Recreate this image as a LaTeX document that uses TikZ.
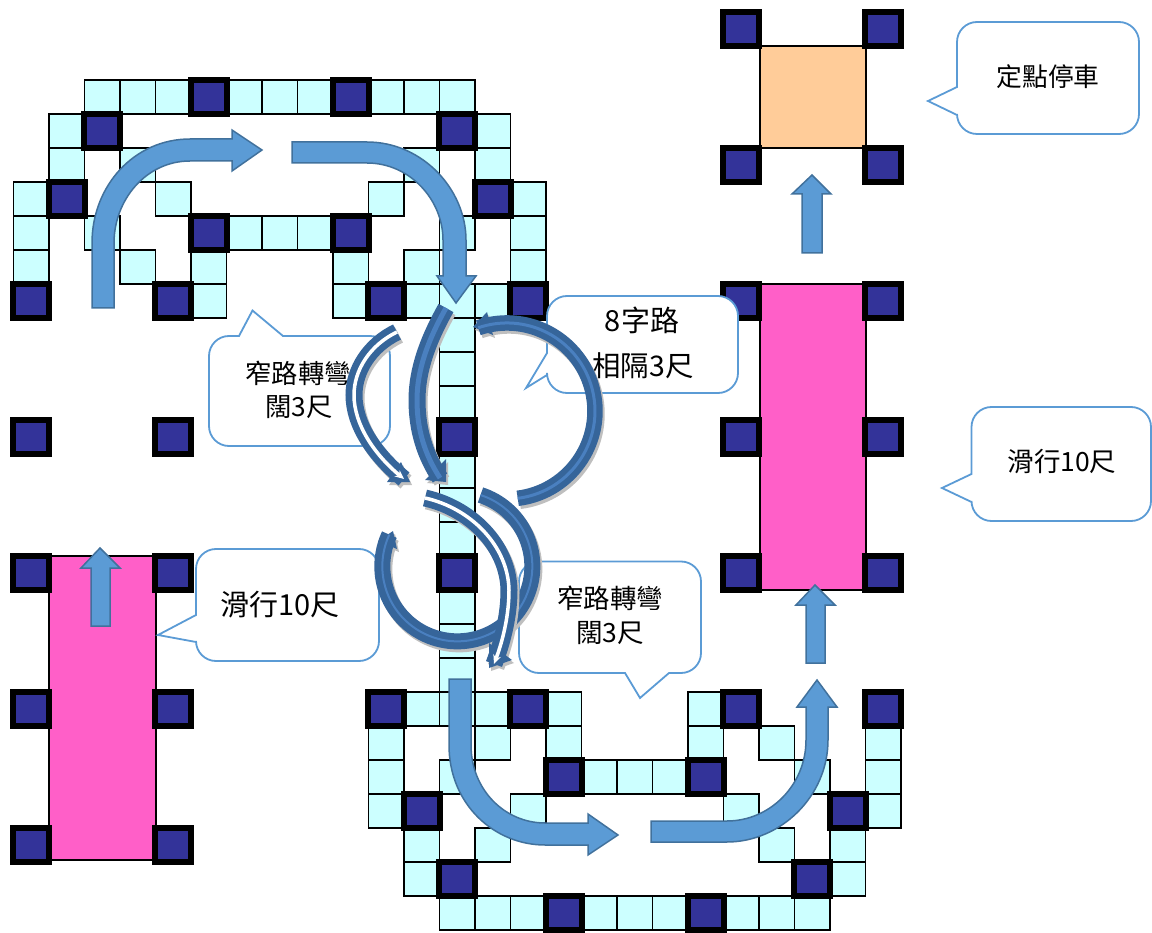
\documentclass[tikz,border=0pt]{standalone}
\usepackage{fontspec}
\newfontfamily\cjk{Noto Sans CJK TC}
\usetikzlibrary{arrows.meta}
\definecolor{trackcyan}{HTML}{CCFFFF}
\definecolor{postblue}{HTML}{333399}
\definecolor{bararrow}{HTML}{5B9BD5}
\definecolor{barline}{HTML}{41719C}
\definecolor{swoopdark}{HTML}{36659A}
\definecolor{swooplight}{HTML}{4A80C0}
\definecolor{stoporange}{HTML}{FFCC99}
\definecolor{glidepink}{HTML}{FF5FC8}
\tikzset{
        x=1pt, y=-1pt, % one unit is one pixel of the layout, y runs down
        cell/.style={draw=black, line width=1.4pt, fill=trackcyan, minimum width=35.5pt, minimum height=34pt, inner sep=0pt},
        post/.style={draw=black, line width=5.7pt, fill=postblue, minimum width=36pt, minimum height=34pt, inner sep=0pt},
        stage/.style={draw=black, line width=2pt}, % the coloured stop and glide boxes
        bar/.style={fill=bararrow, draw=barline, line width=1.5pt}, % block arrows
        callout/.style={draw=bararrow, line width=1.8pt, fill=white},
        words/.style={align=center, inner sep=0pt},
        swoopline/.style={draw=swoopdark},
        swoopshade/.style={draw=black!25},
        whitecore/.style={draw=white, line width=3.5pt, -{Stealth[length=9pt,width=8pt]}},
        bluecore/.style={draw=swooplight, line width=#1},
    }
\newcommand{\wordsize}[1]{\cjk\fontsize{#1}{#1}\selectfont}
% outer width, core style, curve, head
\newcommand{\swoop}[4]{%
    \begin{scope}[shift={(2,3)}]
        \draw[swoopshade, line width=#1] #3;
        \fill[black!25] #4;
    \end{scope}
    \draw[swoopline, line width=#1] #3;
    \fill[swoopdark] #4;
    \draw[#2] #3;
}

\begin{document}
\begin{tikzpicture}
    \useasboundingbox (0,0) rectangle (1152,933);
    % track squares, row by row
    \foreach \r/\cols in {0/{2,...,12}, 1/{1,2,12,13}, 2/{1,3,11,13}, 3/{0,1,4,10,13,14},
            4/{0,2,5,6,7,8,9,12,14}, 5/{0,3,5,9,11,14}, 6/{4,5,9,10,11,12,13},
            7/{12}, 8/{12}, 9/{12}, 10/{12}, 11/{12}, 12/{12}, 13/{12}, 14/{12}, 15/{12}, 16/{12}, 17/{12},
            18/{10,...,15,19,...,24}, 19/{10,13,15,19,21,24}, 20/{10,12,15,16,17,18,19,22,24},
            21/{10,11,14,20,23,24}, 22/{11,13,21,23}, 23/{11,12,22,23}, 24/{12,...,22}}
        \foreach \c in \cols
            \node[cell] (cell-\c-\r) at ({31.25+35.5*\c},{97+34*\r}) {};
    % stop box and glide boxes
    \draw[stage, fill=stoporange] (759.5,46) rectangle (866,148);
    \draw[stage, fill=glidepink] (759.5,284) rectangle (866,590);
    \draw[stage, fill=glidepink] (49,556) rectangle (155.5,860);
    % posts
    \foreach \c/\r in {5/0, 9/0, 2/1, 12/1, 1/3, 13/3, 5/4, 9/4, 0/6, 4/6, 10/6, 14/6,
            12/10, 12/14, 10/18, 14/18, 20/18, 24/18, 15/20, 19/20, 11/21, 23/21, 12/23, 22/23, 15/24, 19/24,
            0/10, 4/10, 0/14, 4/14, 0/18, 4/18, 0/22, 4/22,
            20/6, 24/6, 20/10, 24/10, 20/14, 24/14, 20/-2, 24/-2, 20/2, 24/2}
        \node[post] (post-\c-\r) at ({31.25+35.5*\c},{97+34*\r}) {};
    % block arrows
    \draw[bar] (92,308) -- (92,243) .. controls (92,186) and (134,139) .. (190,139) -- (232,139) -- (232,130) -- (262,150)
        -- (232,171) -- (232,161) -- (190,161) .. controls (146,161) and (114,200) .. (114,243) -- (114,308) -- cycle;
    \draw[bar] (292,142) -- (367,142) .. controls (423,142) and (466,190) .. (466,240) -- (466,276) -- (476,276) -- (456,303)
        -- (437,276) -- (443,276) -- (443,240) .. controls (443,200) and (410,163) .. (367,163) -- (292,163) -- cycle;
    \draw[bar] (449,679) -- (449,745) .. controls (449,805) and (495,845) .. (545,845) -- (588,845) -- (588,855) -- (618,835)
        -- (588,814) -- (588,823) -- (545,823) .. controls (505,823) and (471,790) .. (471,745) -- (471,679) -- cycle;
    \draw[bar] (651,821) -- (727,821) .. controls (770,821) and (806,785) .. (806,740) -- (806,707) -- (797,707) -- (817,680)
        -- (837,707) -- (828,707) -- (828,740) .. controls (828,797) and (780,842) .. (727,842) -- (651,842) -- cycle;
    \draw[bar] (91,626) -- (91,568) -- (81,568) -- (100,548) -- (120,568) -- (110,568) -- (110,626) -- cycle;
    \draw[bar] (806,663) -- (806,605) -- (796,605) -- (815,585) -- (835,605) -- (825,605) -- (825,663) -- cycle;
    \draw[bar] (802,253) -- (802,194) -- (792,194) -- (812,175) -- (831,194) -- (822,194) -- (822,253) -- cycle;
    % callouts
    \draw[callout] (957,87) [rounded corners=20pt] -- (957,22) -- (1139,22) -- (1139,134) -- (957,134) [sharp corners] -- (957,115) -- (928,101) -- cycle;
    \node[words, font=\wordsize{25.8}] (stopnote) at (1048,77) {定點停車};
    \draw[callout] (971.5,474) [rounded corners=20pt] -- (971.5,407) -- (1151,407) -- (1151,521) -- (971.5,521) [sharp corners] -- (971.5,502) -- (942,488) -- cycle;
    \node[words, font=\wordsize{26.5}] (glidenote) at (1062,462) {滑行10尺};
    \draw[callout] (196,615) [rounded corners=20pt] -- (196,549) -- (379,549) -- (379,661) -- (196,661) [sharp corners] -- (196,642) -- (158,635) -- cycle;
    \node[words, font=\wordsize{29}] (glideleft) at (280,605) {滑行10尺};
    \draw[callout] (252.5,310.5) -- (283,336) [rounded corners=20pt] -- (390,336) -- (390,446) -- (209,446) -- (209,336) [sharp corners] -- (239,336) -- cycle;
    \node[words, font=\wordsize{26.3}] (narrowtop) at (298,373) {窄路轉彎};
    \node[words, font=\wordsize{26.3}] (narrowtopgap) at (299,407) {闊3尺};
    \draw[callout] (547,353) [rounded corners=20pt] -- (547,296) -- (738,296) -- (738,393) -- (547,393) [sharp corners] -- (547,375) -- (526,388) -- cycle;
    \node[words, font=\wordsize{29}] (eightnote) at (642,320) {8字路};
    \node[words, font=\wordsize{28.4}] (gapnote) at (643,366) {相隔3尺};
    \draw[callout] (640,698) -- (625,673) [rounded corners=20pt] -- (519,673) -- (519,561.5) -- (701,561.5) -- (701,673) [sharp corners] -- (669,673) -- cycle;
    \node[words, font=\wordsize{26.5}] (narrowlow) at (610,598) {窄路轉彎};
    \node[words, font=\wordsize{26.5}] (narrowlowgap) at (610,633) {闊3尺};
    % figure eight and narrow turn arrows
    \swoop{17pt}{whitecore}{(397,332) .. controls (370,345) and (354,370) .. (354,395) .. controls (354,425) and (375,455) .. (404,479)}{(387,482) -- (410,482) -- (401,462) -- cycle}
    \swoop{17pt}{bluecore=5pt}{(446,308) .. controls (428,340) and (417,370) .. (417,400) .. controls (417,430) and (425,455) .. (440,478)}{(425,480) -- (446,482) -- (446,459) -- cycle}
    \swoop{15.5pt}{bluecore=3pt}{(517.7,498.3) arc[start angle=-83, end angle=109, radius=88pt]}{(473,327) -- (487,312) -- (493,335) -- cycle}
    \swoop{16pt}{bluecore=2pt}{(480.5,495) arc[start angle=72, end angle=-205, radius=75pt]}{(378,541) -- (393,531) -- (397,549) -- cycle}
    \swoop{17pt}{whitecore}{(425,498) .. controls (470,508) and (508,545) .. (509,590) .. controls (509,615) and (503,640) .. (494,664)}{(489,668) -- (489,643) -- (512,660) -- cycle}
\end{tikzpicture}
\end{document}
